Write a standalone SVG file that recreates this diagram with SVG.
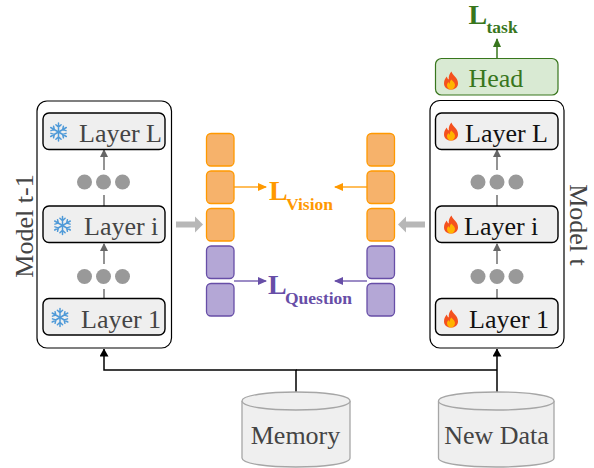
<svg xmlns="http://www.w3.org/2000/svg" width="594" height="468" viewBox="0 0 594 468">
<style>
text{font-family:"Liberation Serif","Times New Roman",serif}
.panel{fill:#fff;stroke:#000;stroke-width:1.2}
.layer{fill:#efefef;stroke:#000;stroke-width:1.4}
.lt{font-size:26px;fill:#444}
.lk{font-size:26px;fill:#111}
.dot{fill:#999}
.or{fill:#f6b26b;stroke:#ff9900;stroke-width:1.3}
.pu{fill:#b4a7d6;stroke:#674ea7;stroke-width:1.3}
.gl{stroke:#666;stroke-width:1.4;fill:none}
.bl{stroke:#000;stroke-width:1.5;fill:none}
.db{fill:#efefef;stroke:#a6a6a6;stroke-width:1.3}
.sf{stroke:#4f9ad8;stroke-width:1.5;fill:none;stroke-linecap:round}
.big{font-weight:bold;font-size:28px}
.sub{font-weight:bold;font-size:17.5px}
</style>
<defs>
<g id="snow"><g class="sf">
<g id="a"><path d="M0-9V9M-2.6-7.2 0-4.8 2.6-7.2M-2.6 7.2 0 4.8 2.6 7.2"/></g>
<use href="#a" transform="rotate(60)"/><use href="#a" transform="rotate(120)"/></g></g>
<g id="fire"><path d="M0.5-9.5C1.5-5.5 7-3.5 7 2.2 7 6.2 4 8.5 0 8.5-4 8.5-7 6.2-7 2.2-7-.8-5.4-3-4.2-4.5-3.8-2.8-3.2-2-2.2-1.6-2.6-4.8-1.4-7.6 0.5-9.5Z" fill="#f4511e"/><path d="M0.3-1.5C1-.2 4 1.2 4 4 4 6.600 2.200 8.500 0 8.500-2.200 8.500-4 6.800-4 4.300-4 3-3.300 1.900-2.600 1.100-2.300 2-1.800 2.500-1.200 2.700-1.300 1-0.700-.4 0.300-1.500Z" fill="#ffb300"/></g>
<marker id="mg" markerWidth="8" markerHeight="8" refX="7" refY="4" orient="auto" markerUnits="userSpaceOnUse"><path d="M0 0L8 4 0 8Z" fill="#666"/></marker>
<marker id="mb" markerWidth="8" markerHeight="9" refX="7.500" refY="4.500" orient="auto" markerUnits="userSpaceOnUse"><path d="M0 0L8 4.500 0 9Z" fill="#000"/></marker>
<marker id="mo" markerWidth="9" markerHeight="8" refX="8" refY="4" orient="auto" markerUnits="userSpaceOnUse"><path d="M0 0L9 4 0 8Z" fill="#ff9900"/></marker>
<marker id="mp" markerWidth="9" markerHeight="8" refX="8" refY="4" orient="auto" markerUnits="userSpaceOnUse"><path d="M0 0L9 4 0 8Z" fill="#674ea7"/></marker>
<marker id="mn" markerWidth="9" markerHeight="8" refX="8" refY="4" orient="auto" markerUnits="userSpaceOnUse"><path d="M0 0L9 4 0 8Z" fill="#38761d"/></marker>
</defs>

<g id="model-t-1">
<rect class="panel" x="37" y="101" width="134.500" height="247" rx="10"/>
<text class="lt" transform="translate(33 226) rotate(-90)" text-anchor="middle">Model t-1</text>
</g>
<g id="model-t">
<rect class="panel" x="430" y="100.500" width="134" height="247.500" rx="10"/>
<text class="lt" transform="translate(569.500 225) rotate(90)" text-anchor="middle">Model t</text>
</g>

<g id="connectors">
<path class="gl" marker-end="url(#mg)" d="M104 170V150"/>
<path class="gl" d="M104 195V206"/>
<path class="gl" marker-end="url(#mg)" d="M104 264V244"/>
<path class="gl" d="M104 289V298"/>
<path class="gl" marker-end="url(#mg)" d="M497 170V150"/>
<path class="gl" d="M497 195V206"/>
<path class="gl" marker-end="url(#mg)" d="M497 264V244"/>
<path class="gl" d="M497 289V298"/>
<path d="M497 58V39" stroke="#38761d" stroke-width="1.500" fill="none" marker-end="url(#mn)"/>
<path class="bl" marker-end="url(#mb)" d="M296 392V370H104V349"/>
<path class="bl" marker-end="url(#mb)" d="M497 392V349"/>
<path class="bl" d="M296 370H497"/>
<path d="M234 187H266" stroke="#ff9900" stroke-width="1.300" fill="none" marker-end="url(#mo)"/>
<path d="M367 187H335" stroke="#ff9900" stroke-width="1.300" fill="none" marker-end="url(#mo)"/>
<path d="M234 281H266" stroke="#674ea7" stroke-width="1.300" fill="none" marker-end="url(#mp)"/>
<path d="M367 281H335" stroke="#674ea7" stroke-width="1.300" fill="none" marker-end="url(#mp)"/>
<path d="M176 221.500H195V216.500L203 224.500 195 232.500V227.500H176Z" fill="#b7b7b7"/>
<path d="M425 221.500H406V216.500L398 224.500 406 232.500V227.500H425Z" fill="#b7b7b7"/>
</g>

<g id="dots" class="dot">
<circle cx="84.500" cy="182" r="7.500"/><circle cx="103.500" cy="182" r="7.500"/><circle cx="122.500" cy="182" r="7.500"/>
<circle cx="84.500" cy="276.500" r="7.500"/><circle cx="103.500" cy="276.500" r="7.500"/><circle cx="122.500" cy="276.500" r="7.500"/>
<circle cx="478" cy="182" r="7.500"/><circle cx="497" cy="182" r="7.500"/><circle cx="516" cy="182" r="7.500"/>
<circle cx="478" cy="276.500" r="7.500"/><circle cx="497" cy="276.500" r="7.500"/><circle cx="516" cy="276.500" r="7.500"/>
</g>

<g id="left-layer-L"><rect class="layer" x="43" y="113" width="122" height="36.500" rx="6"/><use href="#snow" x="58.500" y="132"/><text class="lt" x="79" y="142">Layer L</text></g>
<g id="left-layer-i"><rect class="layer" x="43" y="206" width="122" height="36.500" rx="6"/><use href="#snow" x="62.500" y="225.500"/><text class="lt" x="84" y="235">Layer i</text></g>
<g id="left-layer-1"><rect class="layer" x="43" y="298.500" width="122" height="36.500" rx="6"/><use href="#snow" x="60" y="317.500"/><text class="lt" x="81" y="327.500">Layer 1</text></g>

<g id="head"><rect x="435.500" y="58.500" width="122.500" height="36.500" rx="6" fill="#d9ead3" stroke="#38761d" stroke-width="1.200"/><use href="#fire" x="451" y="81"/><text x="468.500" y="87" font-size="26" fill="#38761d">Head</text></g>
<g id="right-layer-L"><rect class="layer" x="435.500" y="113" width="122.500" height="36.500" rx="6"/><use href="#fire" x="451" y="132"/><text class="lk" x="465" y="141.500">Layer L</text></g>
<g id="right-layer-i"><rect class="layer" x="435.500" y="206" width="122.500" height="36.500" rx="6"/><use href="#fire" x="451" y="225"/><text class="lk" x="464" y="234.500">Layer i</text></g>
<g id="right-layer-1"><rect class="layer" x="435.500" y="298.500" width="122.500" height="36.500" rx="6"/><use href="#fire" x="451" y="319"/><text class="lk" x="469" y="327.500">Layer 1</text></g>

<g id="left-features">
<rect class="or" x="206.500" y="133.500" width="27.500" height="32.500" rx="4.500"/>
<rect class="or" x="206.500" y="171" width="27.500" height="32.500" rx="4.500"/>
<rect class="or" x="206.500" y="208.500" width="27.500" height="32.500" rx="4.500"/>
<rect class="pu" x="206.500" y="246" width="27.500" height="32.500" rx="4.500"/>
<rect class="pu" x="206.500" y="283.500" width="27.500" height="32.500" rx="4.500"/>
</g>
<g id="right-features">
<rect class="or" x="367" y="133.500" width="27.500" height="32.500" rx="4.500"/>
<rect class="or" x="367" y="171" width="27.500" height="32.500" rx="4.500"/>
<rect class="or" x="367" y="208.500" width="27.500" height="32.500" rx="4.500"/>
<rect class="pu" x="367" y="246" width="27.500" height="32.500" rx="4.500"/>
<rect class="pu" x="367" y="283.500" width="27.500" height="32.500" rx="4.500"/>
</g>

<g id="l-vision" fill="#ff9900"><text class="big" x="269" y="200">L</text><text class="sub" x="286" y="210">Vision</text></g>
<g id="l-question" fill="#674ea7"><text class="big" x="268" y="294">L</text><text class="sub" x="285" y="303.500">Question</text></g>
<g id="l-task" fill="#38761d"><text class="big" x="468.500" y="23.500">L</text><text class="sub" x="486.500" y="33">task</text></g>

<g id="memory">
<path class="db" d="M242 401C242 389 350 389 350 401V458C350 470 242 470 242 458Z"/>
<path class="db" d="M242 401C242 413 350 413 350 401" fill="none"/>
<text class="lt" x="295.500" y="443.500" text-anchor="middle">Memory</text>
</g>
<g id="new-data">
<path class="db" d="M438.500 401C438.500 389 554 389 554 401V458C554 470 438.500 470 438.500 458Z"/>
<path class="db" d="M438.500 401C438.500 413 554 413 554 401" fill="none"/>
<text class="lt" x="496.500" y="443.500" text-anchor="middle">New Data</text>
</g>
</svg>
